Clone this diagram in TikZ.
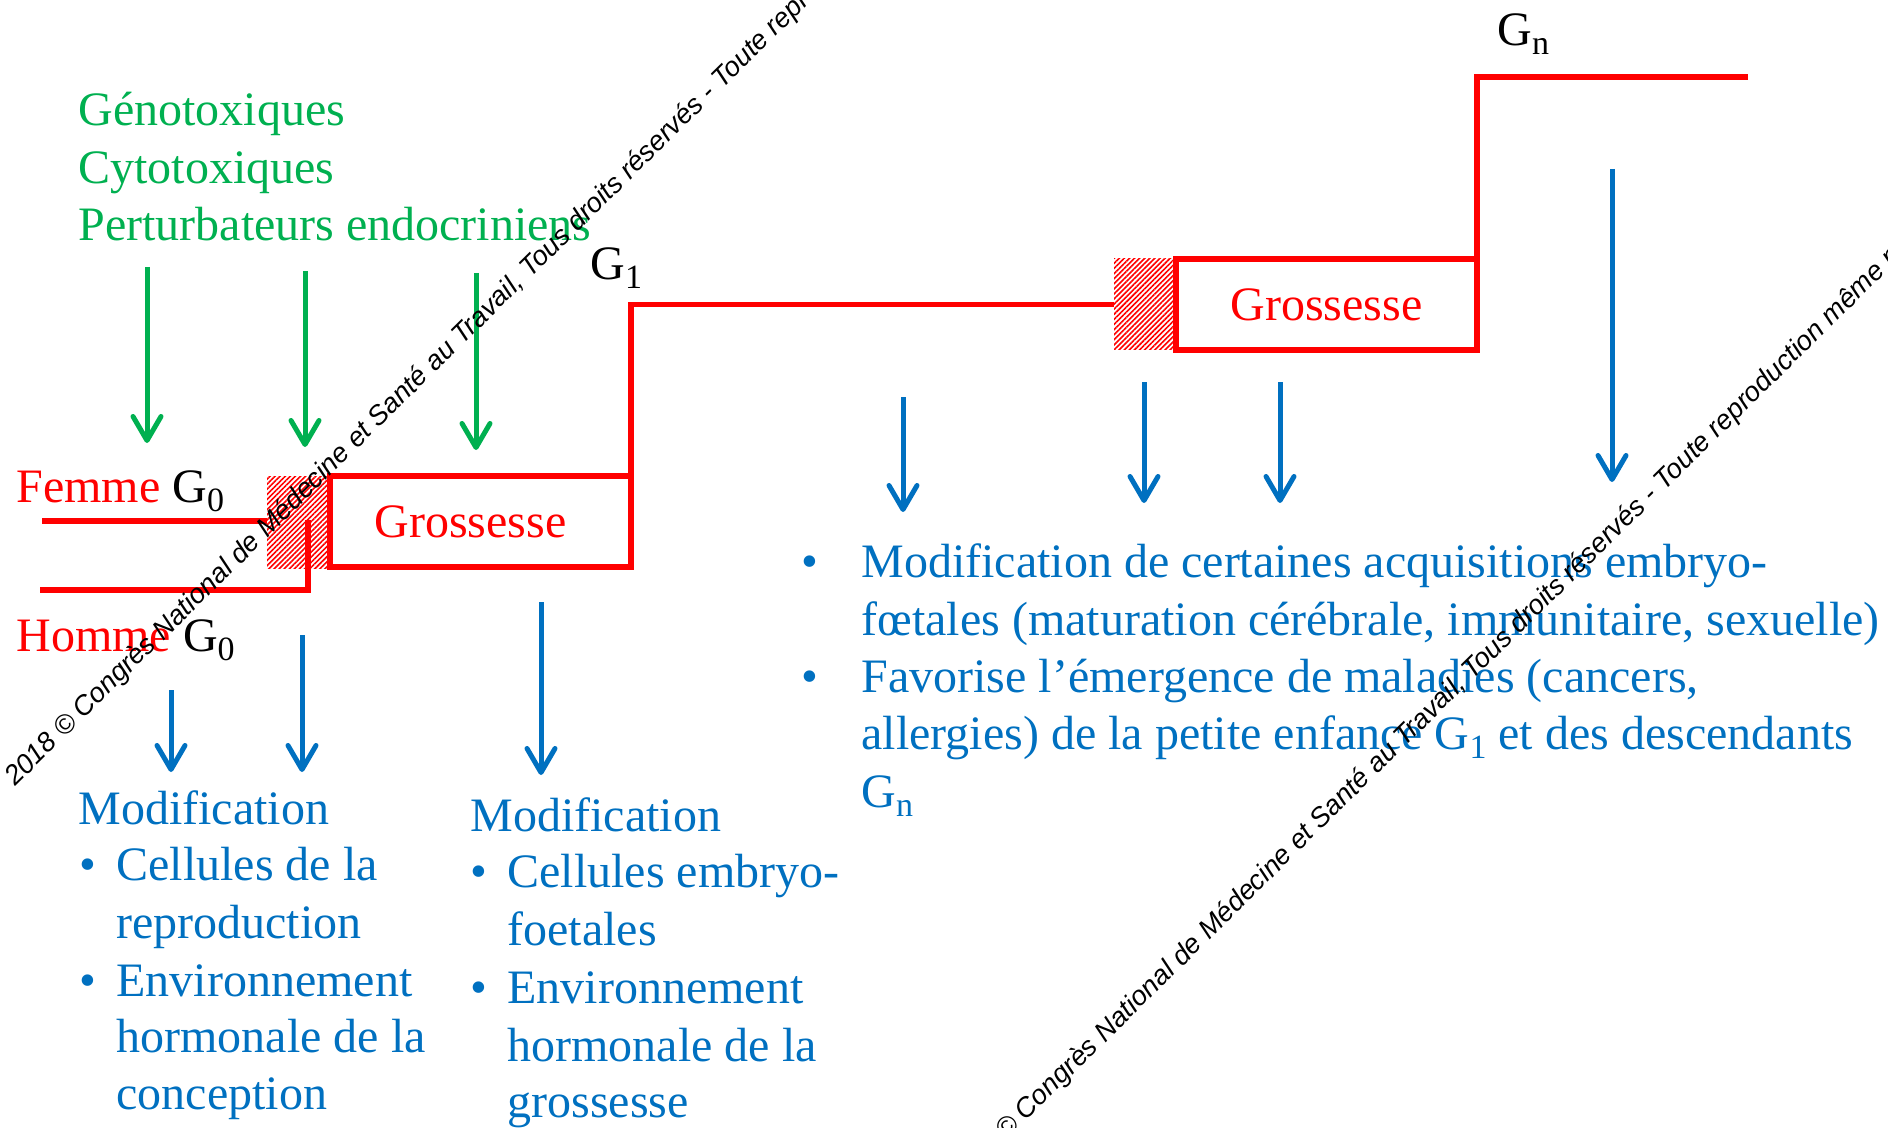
\documentclass[tikz,border=0pt]{standalone}
\usepackage{fontspec}
\setmainfont{Liberation Serif}
\newfontfamily\wmfont{Liberation Sans}
\usetikzlibrary{arrows.meta,patterns.meta}
\definecolor{pgreen}{HTML}{00B050}
\definecolor{pblue}{HTML}{0070C0}
\definecolor{pred}{HTML}{FF0000}
\newcommand\lsub[1]{\raisebox{-4.5pt}{\fontsize{17}{17}\selectfont #1}}
\begin{document}
\begin{tikzpicture}[x=0.5pt,y=-0.5pt,
  txt/.style={inner sep=0pt, anchor=base west, font=\fontsize{24}{28.8}\selectfont},
  gtxt/.style={txt, text=pgreen},
  btxt/.style={txt, text=pblue},
  redline/.style={draw=pred, line width=2.75pt},
  gbox/.style={draw=pred, line width=2.75pt, minimum width=150.5pt, minimum height=45.5pt, inner sep=0pt, outer sep=0pt, text=pred, font=\fontsize{24}{28}\selectfont},
  hatchbox/.style={pattern={Lines[angle=45,distance=1.8pt,line width=0.8pt]}, pattern color=pred, minimum width=31.5pt, minimum height=46pt, inner sep=0pt, outer sep=0pt},
  harrow/.style={line width=2.5pt, -{Straight Barb[length=12pt,width=14pt,round]}},
  garrow/.style={harrow, draw=pgreen},
  barrow/.style={harrow, draw=pblue},
  wm/.style={inner sep=0pt, anchor=base west, rotate=44.6, font=\wmfont\itshape\fontsize{13.7}{16}\selectfont}
]
\useasboundingbox (0,0) rectangle (1888,1128);
\clip (0,0) rectangle (1888,1128);

% green causes
\node[gtxt] (geno) at (78,126) {Génotoxiques};
\node[gtxt] (cyto) at (78,184) {Cytotoxiques};
\node[gtxt] (pert) at (78,241) {Perturbateurs endocriniens};

% green arrows
\coordinate (ga1s) at (147,267); \coordinate (ga1e) at (147,443);
\coordinate (ga2s) at (305,271); \coordinate (ga2e) at (305,447);
\coordinate (ga3s) at (476,273); \coordinate (ga3e) at (476,450);
\draw[garrow] (ga1s) -- (ga1e);
\draw[garrow] (ga2s) -- (ga2e);
\draw[garrow] (ga3s) -- (ga3e);

% boxes
\node[hatchbox] (hatch1) at (298.5,522) {};
\node[gbox, text width=150.5pt, align=center] (box1) at (480.5,521.5) {\hspace*{-10pt}Grossesse};
\node[hatchbox, minimum width=31pt, minimum height=45.5pt] (hatch2) at (1145,304.5) {};
\node[gbox] (box2) at (1326.5,304.5) {Grossesse};

% red generation lines
\coordinate (fstart) at (42,521);
\coordinate (hstart) at (40,590);
\coordinate (hturn) at (308,590);
\coordinate (hend) at (308,520);
\coordinate (gnend) at (1748,77);
\draw[redline] (fstart) -- (fstart -| hatch1.west);
\draw[redline] (hstart) -- (hturn) -- (hend);
\draw[redline] (box1.south east) -- (box1.south east |- hatch2.west) -- (hatch2.west);
\draw[redline] (box2.south east) -- (box2.south east |- gnend) -- (gnend);

% generation labels
\node[txt] (femme) at (16,502) {\textcolor{pred}{Femme} G\lsub{0}};
\node[txt] (homme) at (16,651) {\textcolor{pred}{Homme} G\lsub{0}};
\node[txt] (g1) at (590,280) {G\lsub{1}};
\node[txt] (gn) at (1497,46) {G\lsub{n}};

% blue arrows
\coordinate (ba1s) at (171,690);  \coordinate (ba1e) at (171,772);
\coordinate (ba2s) at (302,635);  \coordinate (ba2e) at (302,772);
\coordinate (ba3s) at (541,602);  \coordinate (ba3e) at (541,775);
\coordinate (ba4s) at (903,397);  \coordinate (ba4e) at (903,512);
\coordinate (ba5s) at (1144,382); \coordinate (ba5e) at (1144,503);
\coordinate (ba6s) at (1280,382); \coordinate (ba6e) at (1280,503);
\coordinate (ba7s) at (1612,169); \coordinate (ba7e) at (1612,482);
\foreach \i in {1,...,7} {\draw[barrow] (ba\i s) -- (ba\i e);}

% left effects
\node[btxt] (m1) at (78,824) {Modification};
\node[btxt] (m1b1) at (79,880) {•};
\node[btxt] (m1l1) at (116,880) {Cellules de la};
\node[btxt] (m1l2) at (116,938) {reproduction};
\node[btxt] (m1b2) at (79,996) {•};
\node[btxt] (m1l3) at (116,996) {Environnement};
\node[btxt] (m1l4) at (116,1052) {hormonale de la};
\node[btxt] (m1l5) at (116,1109) {conception};

% middle effects
\node[btxt] (m2) at (470,831) {Modification};
\node[btxt] (m2b1) at (470,887) {•};
\node[btxt] (m2l1) at (507,887) {Cellules embryo-};
\node[btxt] (m2l2) at (507,945) {foetales};
\node[btxt] (m2b2) at (470,1003) {•};
\node[btxt] (m2l3) at (507,1003) {Environnement};
\node[btxt] (m2l4) at (507,1061) {hormonale de la};
\node[btxt] (m2l5) at (507,1117) {grossesse};

% right effects
\node[btxt] (m3b1) at (801,577) {•};
\node[btxt] (m3l1) at (861,577) {Modification de certaines acquisitions embryo-};
\node[btxt] (m3l2) at (861,635) {fœtales (maturation cérébrale, immunitaire, sexuelle)};
\node[btxt] (m3b2) at (801,692) {•};
\node[btxt] (m3l3) at (861,692) {Favorise l’émergence de maladies (cancers,};
\node[btxt] (m3l4) at (861,749) {allergies) de la petite enfance G\lsub{1} et des descendants};
\node[btxt] (m3l5) at (861,807) {G\lsub{n}};

% copyright watermark
\node[wm] (wm1) at (15,787) {2018 © Congrès National de Médecine et Santé au Travail, Tous droits réservés - Toute reproduction même partielle interdite};
\node[wm] (wm2) at (957,1189) {2018 © Congrès National de Médecine et Santé au Travail, Tous droits réservés - Toute reproduction même partielle interdite};
\end{tikzpicture}
\end{document}
